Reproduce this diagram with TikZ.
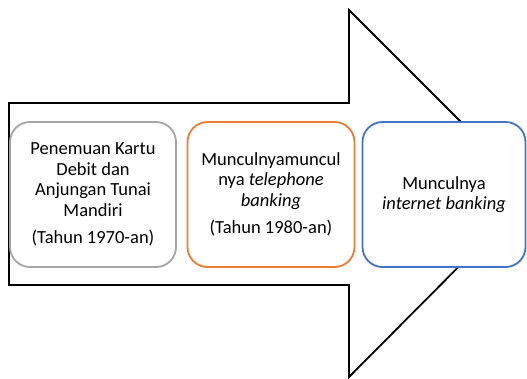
\documentclass[tikz,border=0pt]{standalone}
\usepackage{fontspec}
\setmainfont{Carlito}
\definecolor{boxgray}{HTML}{A5A5A5}
\definecolor{boxorange}{HTML}{ED7D31}
\definecolor{boxblue}{HTML}{4472C4}
\begin{document}
\begin{tikzpicture}[x=1pt, y=1pt,
    stage/.style={rectangle, rounded corners=20pt, line width=1.8pt, fill=white,
      minimum height=145pt, inner sep=1pt, align=center,
      font=\fontsize{18.5}{20.5}\selectfont}]
  \useasboundingbox (0,0) rectangle (527,378);
  % Arrow
  \begin{scope}
    \clip (0,0) rectangle (522,378);
    \draw[line width=1.8pt, fill=white] (9,275) -- (349,275) -- (349,368) -- (532,185)
      -- (349,1) -- (349,93) -- (9,93) -- cycle;
  \end{scope}

  % Nodes
  \node[stage, draw=boxgray, minimum width=166pt] at (93,183.5) (kartu)
    {Penemuan Kartu\\Debit dan\\Anjungan Tunai\\Mandiri\\[7pt](Tahun 1970-an)};
  \node[stage, draw=boxorange, minimum width=167pt] at (271,183.5) (telepon)
    {Munculnyamuncul\\nya \textit{telephone}\\\textit{banking}\\[7pt](Tahun 1980-an)};
  \node[stage, draw=boxblue, minimum width=163pt] at (444,183.5) (internet)
    {Munculnya\\\textit{internet banking}};
\end{tikzpicture}
\end{document}
